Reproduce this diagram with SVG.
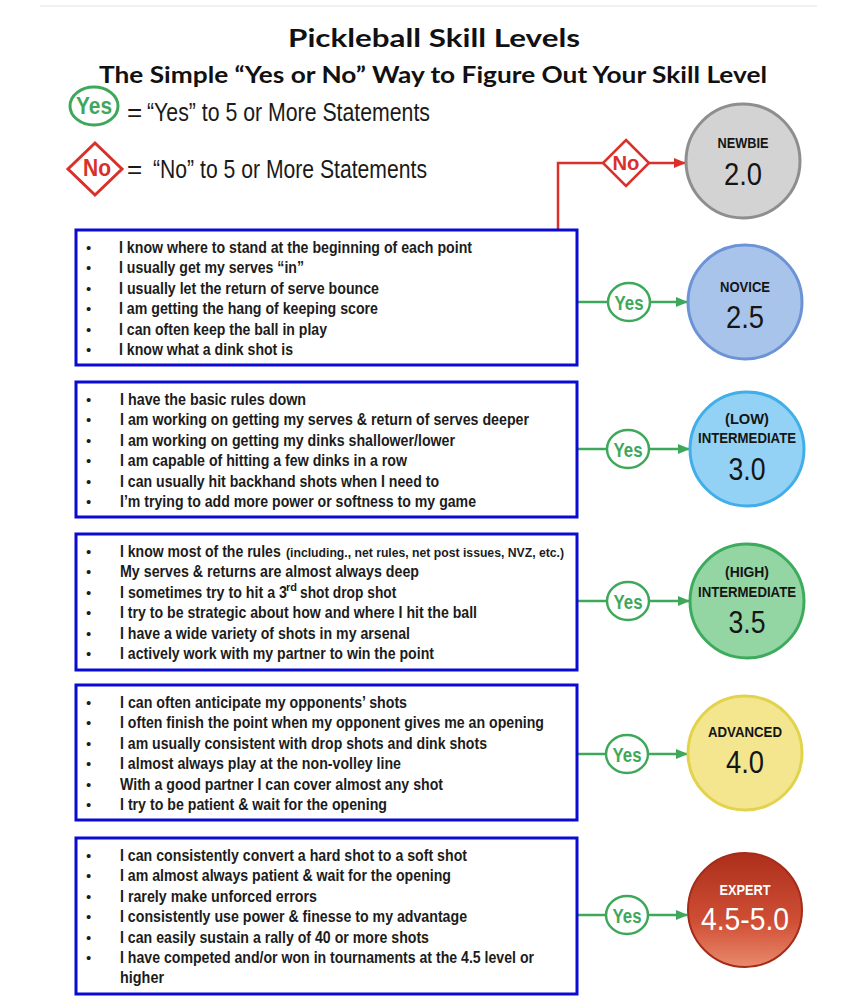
<svg xmlns="http://www.w3.org/2000/svg" width="857" height="1000" viewBox="0 0 857 1000">
<style>
.title{font-family:Lato,"Open Sans","Liberation Sans",sans-serif;font-weight:bold;fill:#111}
.leg{font-family:"Liberation Sans",Arial,sans-serif;font-size:26px;fill:#1a1a1a}
.box{fill:#fff;stroke:#0a0ad2;stroke-width:3}
.li{font-family:"Liberation Sans",Arial,sans-serif;font-weight:bold;font-size:17px;fill:#1c1c1c}
.sm{font-size:13.5px}
.sup{font-size:11px}
.bul{font-family:"Liberation Sans",Arial,sans-serif;font-size:15px;fill:#1c1c1c}
.lbl{font-family:"Liberation Sans",Arial,sans-serif;font-weight:bold;font-size:15px;fill:#151515;text-anchor:middle}
.num{font-family:"Liberation Sans",Arial,sans-serif;font-size:32px;fill:#151515;text-anchor:middle}
.yes{fill:#fff;stroke:#3ea85a;stroke-width:2.5}
.yest{font-family:"Liberation Sans",Arial,sans-serif;font-weight:bold;fill:#3ea85a;text-anchor:middle}
.no{fill:#fff;stroke:#d9302a;stroke-width:2.5}
.not{font-family:"Liberation Sans",Arial,sans-serif;font-weight:bold;fill:#d9302a;text-anchor:middle}
.gl{fill:none;stroke:#3ea85a;stroke-width:2.5}
.rl{fill:none;stroke:#d9302a;stroke-width:2.5}
</style>
<defs>
<marker id="ag" markerUnits="userSpaceOnUse" markerWidth="12" markerHeight="10" refX="11" refY="5" orient="auto"><path d="M0,0 L12,5 L0,10 Z" fill="#3ea85a"/></marker>
<marker id="ar" markerUnits="userSpaceOnUse" markerWidth="12" markerHeight="10" refX="11" refY="5" orient="auto"><path d="M0,0 L12,5 L0,10 Z" fill="#d9302a"/></marker>
<linearGradient id="gExp" x1="0" y1="0" x2="0" y2="1">
<stop offset="0" stop-color="#ad2f1b"/>
<stop offset="0.6" stop-color="#cf4e35"/>
<stop offset="1" stop-color="#ea8a6c"/>
</linearGradient>
</defs>
<rect width="857" height="1000" fill="#fff"/>
<line x1="40" y1="6" x2="817" y2="6" stroke="#ececec" stroke-width="1.5"/>

<g id="title">
<text class="title" x="288" y="47" font-size="25" textLength="292" lengthAdjust="spacingAndGlyphs">Pickleball Skill Levels</text>
<text class="title" x="99" y="83" font-size="22" textLength="668" lengthAdjust="spacingAndGlyphs">The Simple “Yes or No” Way to Figure Out Your Skill Level</text>
</g>

<g id="legend">
<ellipse cx="94" cy="106" rx="24" ry="19" fill="#fff" stroke="#3ea85a" stroke-width="3"/>
<text class="yest" x="94" y="114" font-size="23" textLength="36" lengthAdjust="spacingAndGlyphs">Yes</text>
<text class="leg" x="127" y="121">=</text>
<text class="leg" x="147" y="121" textLength="283" lengthAdjust="spacingAndGlyphs">“Yes” to 5 or More Statements</text>
<polygon points="95,143 122,169 95,195 68,169" fill="#fff" stroke="#d9302a" stroke-width="3"/>
<text class="not" x="97" y="176" font-size="23" textLength="28" lengthAdjust="spacingAndGlyphs">No</text>
<text class="leg" x="127" y="178">=</text>
<text class="leg" x="153" y="178" textLength="274" lengthAdjust="spacingAndGlyphs">“No” to 5 or More Statements</text>
</g>

<g id="connectors">
<path class="rl" d="M558,230 V163 H603"/>
<path class="rl" d="M649,163 H685" marker-end="url(#ar)"/>
<path class="gl" d="M577,302 H608"/>
<path class="gl" d="M650,302 H687" marker-end="url(#ag)"/>
<path class="gl" d="M577,449 H607"/>
<path class="gl" d="M649,449 H689" marker-end="url(#ag)"/>
<path class="gl" d="M577,601 H607"/>
<path class="gl" d="M649,601 H689" marker-end="url(#ag)"/>
<path class="gl" d="M577,754 H606"/>
<path class="gl" d="M648,754 H687" marker-end="url(#ag)"/>
<path class="gl" d="M577,915 H606"/>
<path class="gl" d="M648,915 H687" marker-end="url(#ag)"/>
<g id="label-no">
<polygon class="no" points="626,140 649,163 626,186 603,163"/>
<text class="not" x="626" y="170" font-size="21" textLength="27" lengthAdjust="spacingAndGlyphs">No</text>
</g>
<g id="label-yes1"><ellipse class="yes" cx="629" cy="302" rx="21" ry="19"/><text class="yest" x="629" y="310" font-size="20" textLength="29" lengthAdjust="spacingAndGlyphs">Yes</text></g>
<g id="label-yes2"><ellipse class="yes" cx="628" cy="449" rx="21" ry="19"/><text class="yest" x="628" y="457" font-size="20" textLength="29" lengthAdjust="spacingAndGlyphs">Yes</text></g>
<g id="label-yes3"><ellipse class="yes" cx="628" cy="601" rx="21" ry="19"/><text class="yest" x="628" y="609" font-size="20" textLength="29" lengthAdjust="spacingAndGlyphs">Yes</text></g>
<g id="label-yes4"><ellipse class="yes" cx="627" cy="754" rx="21" ry="19"/><text class="yest" x="627" y="762" font-size="20" textLength="29" lengthAdjust="spacingAndGlyphs">Yes</text></g>
<g id="label-yes5"><ellipse class="yes" cx="627" cy="915" rx="21" ry="19"/><text class="yest" x="627" y="923" font-size="20" textLength="29" lengthAdjust="spacingAndGlyphs">Yes</text></g>
</g>

<g id="box1">
<rect class="box" x="76" y="230" width="501" height="135"/>
<text class="bul" x="86" y="253">•</text><text class="li" x="119" y="253" textLength="353" lengthAdjust="spacingAndGlyphs">I know where to stand at the beginning of each point</text>
<text class="bul" x="86" y="273">•</text><text class="li" x="119" y="273" textLength="185" lengthAdjust="spacingAndGlyphs">I usually get my serves “in”</text>
<text class="bul" x="86" y="294">•</text><text class="li" x="119" y="294" textLength="260" lengthAdjust="spacingAndGlyphs">I usually let the return of serve bounce</text>
<text class="bul" x="86" y="314">•</text><text class="li" x="119" y="314" textLength="259" lengthAdjust="spacingAndGlyphs">I am getting the hang of keeping score</text>
<text class="bul" x="86" y="335">•</text><text class="li" x="119" y="335" textLength="208" lengthAdjust="spacingAndGlyphs">I can often keep the ball in play</text>
<text class="bul" x="86" y="355">•</text><text class="li" x="119" y="355" textLength="174" lengthAdjust="spacingAndGlyphs">I know what a dink shot is</text>
</g>

<g id="box2">
<rect class="box" x="76" y="382" width="501" height="135"/>
<text class="bul" x="86" y="405">•</text><text class="li" x="120" y="405" textLength="186" lengthAdjust="spacingAndGlyphs">I have the basic rules down</text>
<text class="bul" x="86" y="425">•</text><text class="li" x="120" y="425" textLength="409" lengthAdjust="spacingAndGlyphs">I am working on getting my serves &amp; return of serves deeper</text>
<text class="bul" x="86" y="446">•</text><text class="li" x="120" y="446" textLength="335" lengthAdjust="spacingAndGlyphs">I am working on getting my dinks shallower/lower</text>
<text class="bul" x="86" y="466">•</text><text class="li" x="120" y="466" textLength="287" lengthAdjust="spacingAndGlyphs">I am capable of hitting a few dinks in a row</text>
<text class="bul" x="86" y="487">•</text><text class="li" x="120" y="487" textLength="319" lengthAdjust="spacingAndGlyphs">I can usually hit backhand shots when I need to</text>
<text class="bul" x="86" y="507">•</text><text class="li" x="120" y="507" textLength="356" lengthAdjust="spacingAndGlyphs">I’m trying to add more power or softness to my game</text>
</g>

<g id="box3">
<rect class="box" x="76" y="534" width="501" height="136"/>
<text class="bul" x="86" y="557">•</text>
<text class="li" transform="matrix(0.827,0,0,1,120,557)">I know most of the rules</text>
<text class="li sm" transform="matrix(0.905,0,0,1,286,557)">(including., net rules, net post issues, NVZ, etc.)</text>
<text class="bul" x="86" y="577">•</text><text class="li" x="120" y="577" textLength="299" lengthAdjust="spacingAndGlyphs">My serves &amp; returns are almost always deep</text>
<text class="bul" x="86" y="598">•</text>
<text class="li" transform="matrix(0.838,0,0,1,120,598)">I sometimes try to hit a 3</text>
<text class="li sup" x="286" y="591">rd</text>
<text class="li" transform="matrix(0.81,0,0,1,300,598)">shot drop shot</text>
<text class="bul" x="86" y="618">•</text><text class="li" x="120" y="618" textLength="357" lengthAdjust="spacingAndGlyphs">I try to be strategic about how and where I hit the ball</text>
<text class="bul" x="86" y="639">•</text><text class="li" x="120" y="639" textLength="290" lengthAdjust="spacingAndGlyphs">I have a wide variety of shots in my arsenal</text>
<text class="bul" x="86" y="659">•</text><text class="li" x="120" y="659" textLength="314" lengthAdjust="spacingAndGlyphs">I actively work with my partner to win the point</text>
</g>

<g id="box4">
<rect class="box" x="76" y="685" width="501" height="135"/>
<text class="bul" x="86" y="708">•</text><text class="li" x="120" y="708" textLength="287" lengthAdjust="spacingAndGlyphs">I can often anticipate my opponents’ shots</text>
<text class="bul" x="86" y="728">•</text><text class="li" x="120" y="728" textLength="424" lengthAdjust="spacingAndGlyphs">I often finish the point when my opponent gives me an opening</text>
<text class="bul" x="86" y="749">•</text><text class="li" x="120" y="749" textLength="367" lengthAdjust="spacingAndGlyphs">I am usually consistent with drop shots and dink shots</text>
<text class="bul" x="86" y="769">•</text><text class="li" x="120" y="769" textLength="281" lengthAdjust="spacingAndGlyphs">I almost always play at the non-volley line</text>
<text class="bul" x="86" y="790">•</text><text class="li" x="120" y="790" textLength="323" lengthAdjust="spacingAndGlyphs">With a good partner I can cover almost any shot</text>
<text class="bul" x="86" y="810">•</text><text class="li" x="120" y="810" textLength="267" lengthAdjust="spacingAndGlyphs">I try to be patient &amp; wait for the opening</text>
</g>

<g id="box5">
<rect class="box" x="76" y="838" width="501" height="156"/>
<text class="bul" x="86" y="861">•</text><text class="li" x="120" y="861" textLength="347" lengthAdjust="spacingAndGlyphs">I can consistently convert a hard shot to a soft shot</text>
<text class="bul" x="86" y="881">•</text><text class="li" x="120" y="881" textLength="331" lengthAdjust="spacingAndGlyphs">I am almost always patient &amp; wait for the opening</text>
<text class="bul" x="86" y="902">•</text><text class="li" x="120" y="902" textLength="197" lengthAdjust="spacingAndGlyphs">I rarely make unforced errors</text>
<text class="bul" x="86" y="922">•</text><text class="li" x="120" y="922" textLength="347" lengthAdjust="spacingAndGlyphs">I consistently use power &amp; finesse to my advantage</text>
<text class="bul" x="86" y="943">•</text><text class="li" x="120" y="943" textLength="309" lengthAdjust="spacingAndGlyphs">I can easily sustain a rally of 40 or more shots</text>
<text class="bul" x="86" y="963">•</text><text class="li" x="120" y="963" textLength="414" lengthAdjust="spacingAndGlyphs">I have competed and/or won in tournaments at the 4.5 level or</text>
<text class="li" x="120" y="983" textLength="44" lengthAdjust="spacingAndGlyphs">higher</text>
</g>

<g id="newbie">
<circle cx="743" cy="161" r="57" fill="#d3d3d3" stroke="#8e8e8e" stroke-width="3"/>
<text class="lbl" x="743" y="148" textLength="51" lengthAdjust="spacingAndGlyphs">NEWBIE</text>
<text class="num" x="743" y="185" textLength="38" lengthAdjust="spacingAndGlyphs">2.0</text>
</g>
<g id="novice">
<circle cx="745" cy="302" r="57" fill="#a9c4ea" stroke="#6b93d6" stroke-width="3"/>
<text class="lbl" x="745" y="292" textLength="50" lengthAdjust="spacingAndGlyphs">NOVICE</text>
<text class="num" x="745" y="328" textLength="38" lengthAdjust="spacingAndGlyphs">2.5</text>
</g>
<g id="low-intermediate">
<circle cx="747" cy="449" r="57" fill="#93d2f4" stroke="#40aee8" stroke-width="3"/>
<text class="lbl" x="747" y="424" textLength="44" lengthAdjust="spacingAndGlyphs">(LOW)</text>
<text class="lbl" x="747" y="443" textLength="98" lengthAdjust="spacingAndGlyphs">INTERMEDIATE</text>
<text class="num" x="747" y="480" textLength="37" lengthAdjust="spacingAndGlyphs">3.0</text>
</g>
<g id="high-intermediate">
<circle cx="747" cy="601" r="57" fill="#94d5a4" stroke="#3cab5c" stroke-width="3"/>
<text class="lbl" x="747" y="577" textLength="44" lengthAdjust="spacingAndGlyphs">(HIGH)</text>
<text class="lbl" x="747" y="597" textLength="98" lengthAdjust="spacingAndGlyphs">INTERMEDIATE</text>
<text class="num" x="747" y="633" textLength="37" lengthAdjust="spacingAndGlyphs">3.5</text>
</g>
<g id="advanced">
<circle cx="745" cy="753" r="57" fill="#f3e68e" stroke="#e2d24c" stroke-width="3"/>
<text class="lbl" x="745" y="737" textLength="74" lengthAdjust="spacingAndGlyphs">ADVANCED</text>
<text class="num" x="745" y="773" textLength="38" lengthAdjust="spacingAndGlyphs">4.0</text>
</g>
<g id="expert">
<circle cx="745" cy="910" r="57" fill="url(#gExp)" stroke="#a42c19" stroke-width="2"/>
<text class="lbl" x="745" y="895" style="fill:#fff" textLength="51" lengthAdjust="spacingAndGlyphs">EXPERT</text>
<text class="num" x="745" y="930" style="fill:#fff" textLength="88" lengthAdjust="spacingAndGlyphs">4.5-5.0</text>
</g>
</svg>
